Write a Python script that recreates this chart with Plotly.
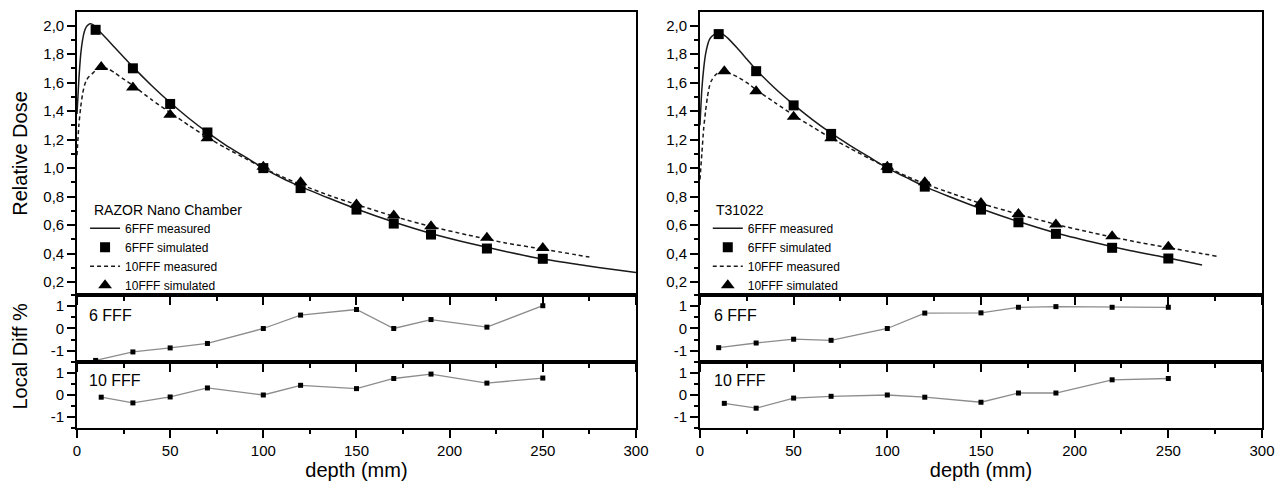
import plotly.graph_objects as go

# ---------------- data ----------------
# RAZOR Nano Chamber (left)
RAZOR_6_MEAS_DEPTH = [0, 1, 2, 3, 4, 5, 6, 7, 8, 10, 12, 15, 20, 25, 30, 40, 50, 60, 70, 80, 90, 100,
                      110, 120, 135, 150, 170, 190, 210, 230, 250, 270, 290, 300]
RAZOR_6_MEAS_DOSE = [1.38, 1.62, 1.80, 1.90, 1.96, 1.99, 2.005, 2.012, 2.01, 1.99, 1.96, 1.92, 1.85, 1.78,
                     1.71, 1.58, 1.46, 1.35, 1.25, 1.16, 1.08, 1.00, 0.93, 0.87, 0.79, 0.713, 0.622, 0.542,
                     0.475, 0.415, 0.362, 0.322, 0.285, 0.268]
RAZOR_10_MEAS_DEPTH = [0, 1, 2, 3, 4, 5, 6, 8, 10, 12, 14, 17, 20, 25, 30, 40, 50, 60, 70, 80, 90, 100,
                       110, 120, 135, 150, 170, 190, 210, 230, 250, 275]
RAZOR_10_MEAS_DOSE = [1.09, 1.30, 1.43, 1.52, 1.58, 1.615, 1.635, 1.66, 1.685, 1.70, 1.705, 1.695, 1.67,
                      1.625, 1.58, 1.48, 1.39, 1.30, 1.215, 1.14, 1.07, 1.00, 0.94, 0.885, 0.81, 0.745,
                      0.662, 0.59, 0.53, 0.475, 0.432, 0.376]
SIM_6_DEPTH = [10, 30, 50, 70, 100, 120, 150, 170, 190, 220, 250]
SIM_10_DEPTH = [13, 30, 50, 70, 100, 120, 150, 170, 190, 220, 250]
RAZOR_6_SIM = [1.97, 1.70, 1.45, 1.25, 1.00, 0.86, 0.709, 0.611, 0.534, 0.436, 0.364]
RAZOR_10_SIM = [1.71, 1.565, 1.375, 1.21, 1.01, 0.90, 0.744, 0.667, 0.592, 0.511, 0.44]

# T31022 (right)
T_6_MEAS_DEPTH = [0, 1, 2, 3, 4, 5, 6, 8, 10, 12, 15, 20, 25, 30, 40, 50, 60, 70, 80, 90, 100,
                  110, 120, 135, 150, 170, 190, 210, 230, 250, 268]
T_6_MEAS_DOSE = [1.30, 1.55, 1.70, 1.80, 1.86, 1.90, 1.92, 1.94, 1.945, 1.94, 1.91, 1.84, 1.765, 1.69,
                 1.56, 1.445, 1.34, 1.245, 1.16, 1.08, 1.00, 0.935, 0.87, 0.79, 0.715, 0.625, 0.545,
                 0.48, 0.42, 0.37, 0.32]
T_10_MEAS_DEPTH = [0, 1, 2, 3, 4, 5, 6, 8, 10, 12, 15, 20, 25, 30, 40, 50, 60, 70, 80, 90, 100,
                   110, 120, 135, 150, 170, 190, 210, 230, 250, 276]
T_10_MEAS_DOSE = [0.92, 1.10, 1.28, 1.40, 1.50, 1.57, 1.61, 1.65, 1.67, 1.675, 1.67, 1.64, 1.60, 1.55,
                  1.46, 1.37, 1.29, 1.21, 1.14, 1.07, 1.005, 0.945, 0.89, 0.82, 0.752, 0.677, 0.605,
                  0.545, 0.49, 0.442, 0.382]
T_6_SIM = [1.94, 1.68, 1.44, 1.24, 1.00, 0.87, 0.709, 0.62, 0.539, 0.441, 0.366]
T_10_SIM = [1.68, 1.54, 1.36, 1.21, 1.01, 0.90, 0.756, 0.679, 0.604, 0.522, 0.448]

# Local differences (%)
RAZOR_DIFF_6 = [-1.43, -1.05, -0.87, -0.67, 0.0, 0.60, 0.85, 0.0, 0.40, 0.06, 1.02]
RAZOR_DIFF_10 = [-0.10, -0.36, -0.09, 0.32, 0.0, 0.44, 0.29, 0.75, 0.95, 0.54, 0.77]
T_DIFF_6 = [-0.86, -0.65, -0.48, -0.53, 0.0, 0.69, 0.70, 0.95, 0.98, 0.95, 0.95]
T_DIFF_10 = [-0.38, -0.60, -0.14, -0.06, 0.0, -0.10, -0.33, 0.09, 0.09, 0.69, 0.75]

DIFF_TICKS = [-1, 0, 1]
DIFF_TICK_LABELS = ["-1", "0", "1"]
LEGEND_NAMES = ["6FFF measured", "6FFF simulated", "10FFF measured", "10FFF simulated"]

# ---------------- figure ----------------
FONT = "Liberation Sans, Arial, sans-serif"
DARK = "#1a1a1a"
fig = go.Figure()


def add_dose(xa, ya, legend, m6x, m6y, m10x, m10y, s6, s10):
    fig.add_trace(go.Scatter(x=m6x, y=m6y, mode="lines", name=LEGEND_NAMES[0], legend=legend,
                             line=dict(color=DARK, width=1.5, shape="spline", smoothing=0.6),
                             xaxis=xa, yaxis=ya))
    fig.add_trace(go.Scatter(x=SIM_6_DEPTH, y=s6, mode="markers", name=LEGEND_NAMES[1], legend=legend,
                             marker=dict(symbol="square", size=10, color="black"),
                             xaxis=xa, yaxis=ya))
    fig.add_trace(go.Scatter(x=m10x, y=m10y, mode="lines", name=LEGEND_NAMES[2], legend=legend,
                             line=dict(color=DARK, width=1.5, dash="4px,3px", shape="spline", smoothing=0.6),
                             xaxis=xa, yaxis=ya))
    fig.add_trace(go.Scatter(x=SIM_10_DEPTH, y=s10, mode="markers", name=LEGEND_NAMES[3], legend=legend,
                             marker=dict(symbol="triangle-up", size=12, color="black"),
                             xaxis=xa, yaxis=ya))


def add_diff(xa, ya, xs, ys):
    fig.add_trace(go.Scatter(x=xs, y=ys, mode="lines+markers", showlegend=False,
                             line=dict(color="#8c8c8c", width=1.3),
                             marker=dict(symbol="square", size=5, color="black"),
                             xaxis=xa, yaxis=ya))


add_dose("x", "y", "legend", RAZOR_6_MEAS_DEPTH, RAZOR_6_MEAS_DOSE, RAZOR_10_MEAS_DEPTH,
         RAZOR_10_MEAS_DOSE, RAZOR_6_SIM, RAZOR_10_SIM)
add_dose("x2", "y2", "legend2", T_6_MEAS_DEPTH, T_6_MEAS_DOSE, T_10_MEAS_DEPTH,
         T_10_MEAS_DOSE, T_6_SIM, T_10_SIM)
add_diff("x3", "y3", SIM_6_DEPTH, RAZOR_DIFF_6)
add_diff("x4", "y4", SIM_6_DEPTH, T_DIFF_6)
add_diff("x5", "y5", SIM_10_DEPTH, RAZOR_DIFF_10)
add_diff("x6", "y6", SIM_10_DEPTH, T_DIFF_10)

DOM_L = [0.0, 0.4717]
DOM_R = [0.5257, 1.0]
DOM_TOP = [0.3197, 1.0]
DOM_MID = [0.1587, 0.3197]
DOM_BOT = [0.0, 0.1587]
LW = 1.6
TICKFONT = dict(size=15, color="black", family=FONT)


def xaxis(domain, anchor, labels, title=None):
    d = dict(domain=domain, anchor=anchor, range=[0, 300], tick0=0, dtick=50, ticks="outside",
             ticklen=8, tickwidth=LW, tickcolor="black", showline=True, linecolor="black",
             linewidth=LW, mirror=True, showgrid=False, zeroline=False, showticklabels=labels,
             tickfont=TICKFONT,
             minor=dict(dtick=25, tick0=0, ticks="outside", ticklen=4, tickwidth=LW, tickcolor="black"))
    if title:
        d["title"] = dict(text=title, font=dict(size=20, color="black", family=FONT), standoff=2)
    return d


def xtop(overlay, anchor):
    return dict(overlaying=overlay, side="top", anchor=anchor, range=[0, 300], tick0=0, dtick=50,
                ticks="inside", ticklen=7, tickwidth=LW, tickcolor="black", showline=False,
                showgrid=False, zeroline=False, showticklabels=False,
                minor=dict(dtick=25, tick0=0, ticks="inside", ticklen=4, tickwidth=LW, tickcolor="black"))


def ydose(domain, anchor, title=None):
    d = dict(domain=domain, anchor=anchor, range=[0.11, 2.095], tick0=0, dtick=0.2, tickformat=".1f",
             ticks="outside", ticklen=8, tickwidth=LW, tickcolor="black", showline=True,
             linecolor="black", linewidth=LW, mirror=True, showgrid=False, zeroline=False,
             tickfont=TICKFONT,
             minor=dict(dtick=0.1, tick0=0, ticks="outside", ticklen=4, tickwidth=LW, tickcolor="black"))
    if title:
        d["title"] = dict(text=title, font=dict(size=20, color="black", family=FONT), standoff=10)
    return d


def ydiff(domain, anchor):
    return dict(domain=domain, anchor=anchor, range=[-1.5, 1.5], tickmode="array", tickvals=DIFF_TICKS,
                ticktext=DIFF_TICK_LABELS, ticks="outside", ticklen=8, tickwidth=LW, tickcolor="black",
                showline=True, linecolor="black", linewidth=LW, mirror=True, showgrid=False,
                zeroline=False, tickfont=TICKFONT,
                minor=dict(dtick=0.5, tick0=0, ticks="outside", ticklen=4, tickwidth=LW, tickcolor="black"))


def yright(overlay, anchor, rng, dtick, minor_dtick):
    return dict(overlaying=overlay, side="right", anchor=anchor, range=rng, tick0=0, dtick=dtick,
                ticks="inside", ticklen=8, tickwidth=LW, tickcolor="black", showline=False,
                showgrid=False, zeroline=False, showticklabels=False,
                minor=dict(dtick=minor_dtick, tick0=0, ticks="inside", ticklen=4, tickwidth=LW,
                           tickcolor="black"))


legend_common = dict(font=dict(size=12, color="black", family=FONT), bgcolor="rgba(0,0,0,0)",
                     borderwidth=0, xanchor="left", yanchor="top", tracegroupgap=0, itemwidth=30)

# The page body has an 8px margin, so the figure is 8px smaller than the 1285x482 window
fig.update_layout(
    width=1277, height=474,
    margin=dict(l=69, r=23, t=4, b=54, autoexpand=False),
    paper_bgcolor="white", plot_bgcolor="white",
    font=dict(family=FONT, color="black"),
    separators=",.",
    xaxis=xaxis(DOM_L, "y", False),
    xaxis2=xaxis(DOM_R, "y2", False),
    xaxis3=xaxis(DOM_L, "y3", False),
    xaxis4=xaxis(DOM_R, "y4", False),
    xaxis5=xaxis(DOM_L, "y5", True, "depth (mm)"),
    xaxis6=xaxis(DOM_R, "y6", True, "depth (mm)"),
    xaxis7=xtop("x", "y"),
    xaxis8=xtop("x2", "y2"),
    yaxis=ydose(DOM_TOP, "x", "Relative Dose"),
    yaxis2=ydose(DOM_TOP, "x2"),
    yaxis3=ydiff(DOM_MID, "x3"),
    yaxis4=ydiff(DOM_MID, "x4"),
    yaxis5=ydiff(DOM_BOT, "x5"),
    yaxis6=ydiff(DOM_BOT, "x6"),
    yaxis7=yright("y", "x", [0.11, 2.095], 0.2, 0.1),
    yaxis8=yright("y2", "x2", [0.11, 2.095], 0.2, 0.1),
    yaxis9=yright("y3", "x3", [-1.5, 1.5], 1, 0.5),
    yaxis10=yright("y4", "x4", [-1.5, 1.5], 1, 0.5),
    yaxis11=yright("y5", "x5", [-1.5, 1.5], 1, 0.5),
    yaxis12=yright("y6", "x6", [-1.5, 1.5], 1, 0.5),
    legend=dict(x=0.0068, y=0.515, **legend_common),
    legend2=dict(x=0.5323, y=0.515, **legend_common),
    showlegend=True,
)

ann_font = dict(family=FONT, color="black")
fig.add_annotation(text="RAZOR Nano Chamber", xref="x domain", yref="y domain", x=0.026, y=0.30,
                   xanchor="left", yanchor="middle", showarrow=False, font=dict(size=14, **ann_font))
fig.add_annotation(text="T31022", xref="x2 domain", yref="y2 domain", x=0.025, y=0.30,
                   xanchor="left", yanchor="middle", showarrow=False, font=dict(size=14, **ann_font))
for xr, yr, txt, xx, yy in [("x3", "y3", "6 FFF", 0.018, 0.69), ("x4", "y4", "6 FFF", 0.021, 0.69),
                            ("x5", "y5", "10 FFF", 0.018, 0.72), ("x6", "y6", "10 FFF", 0.021, 0.72)]:
    fig.add_annotation(text=txt, xref=xr + " domain", yref=yr + " domain", x=xx, y=yy,
                       xanchor="left", yanchor="middle", showarrow=False, font=dict(size=16, **ann_font))
fig.add_annotation(text="Local Diff %", xref="paper", yref="paper", x=-0.048, y=0.172, textangle=-90,
                   xanchor="center", yanchor="middle", showarrow=False, font=dict(size=20, **ann_font))

fig.write_html("out.html")
